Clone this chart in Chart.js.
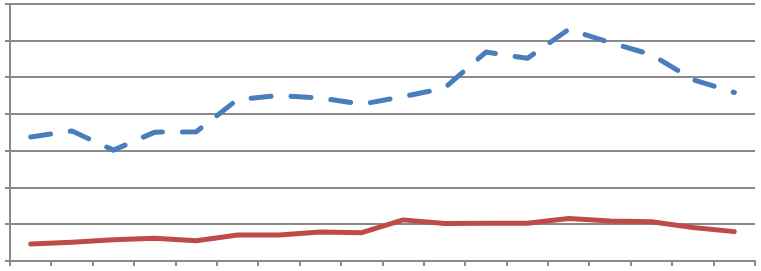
<!DOCTYPE html>
<html>
<head>
<meta charset="utf-8">
<script src="https://cdn.jsdelivr.net/npm/chart.js@4/dist/chart.umd.min.js"></script>
<style>
html,body{margin:0;padding:0;background:#fff;}
canvas{display:block;}
</style>
</head>
<body>
<canvas id="c" width="761" height="271"></canvas>
<script>
const categories = ["1","2","3","4","5","6","7","8","9","10","11","12","13","14","15","16","17","18"];
const blueSeries = [33.8, 35.4, 30.2, 35.1, 35.2, 44.0, 45.1, 44.4, 42.7, 44.8, 47.1, 56.9, 55.2, 63.1, 59.5, 56.2, 49.4, 45.9];
const redSeries = [4.6, 5.1, 5.8, 6.2, 5.5, 7.1, 7.1, 7.9, 7.7, 11.2, 10.2, 10.3, 10.3, 11.6, 10.9, 10.7, 9.1, 8.0];
const yTicks = [0, 10, 20, 30, 40, 50, 60, 70];

const gridColor = '#8a8a8a';
new Chart(document.getElementById('c'), {
  type: 'line',
  data: {
    labels: categories,
    datasets: [
      {
        data: blueSeries,
        borderColor: '#4a7ebb',
        borderWidth: 5,
        borderDash: [20, 20],
        borderCapStyle: 'round',
        borderJoinStyle: 'round',
        pointRadius: 0,
        tension: 0,
        fill: false
      },
      {
        data: redSeries,
        borderColor: '#be4b48',
        borderWidth: 5,
        borderCapStyle: 'round',
        borderJoinStyle: 'round',
        pointRadius: 0,
        tension: 0,
        fill: false
      }
    ]
  },
  options: {
    responsive: false,
    animation: false,
    layout: { padding: { left: 5, right: 6, top: 4, bottom: 5 } },
    plugins: { legend: { display: false }, tooltip: { enabled: false } },
    scales: {
      x: {
        offset: true,
        grid: { offset: true, drawOnChartArea: false, drawTicks: true, tickLength: 5, color: gridColor, lineWidth: 2 },
        border: { color: gridColor, width: 2 },
        ticks: { display: false }
      },
      y: {
        min: yTicks[0],
        max: yTicks[yTicks.length - 1],
        afterBuildTicks: (s) => { s.ticks = yTicks.map(v => ({ value: v })); },
        grid: { drawTicks: true, tickLength: 5, color: gridColor, lineWidth: 2 },
        border: { color: gridColor, width: 2 },
        ticks: { display: false }
      }
    }
  }
});
</script>
</body>
</html>
